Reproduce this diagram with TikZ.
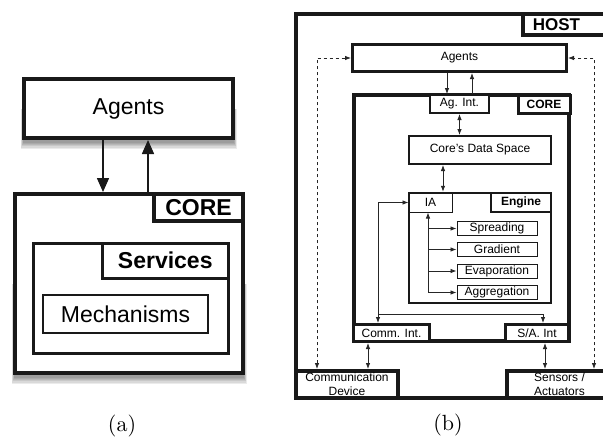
\documentclass[tikz,border=0pt]{standalone}
\usepackage{fontspec}
\newfontfamily\hv{Liberation Sans}
\usetikzlibrary{arrows.meta,calc}
\pgfdeclarelayer{bg}
\pgfsetlayers{bg,main}
\tikzset{
  bx/.style={draw=black!90, fill=white, rectangle, inner sep=0pt, align=center},
  fbig/.style={font=\hv\fontsize{23}{27}\selectfont},
  fbigb/.style={font=\hv\bfseries\fontsize{23}{27}\selectfont},
  fsm/.style={font=\hv\fontsize{12}{14}\selectfont},
  fsmb/.style={font=\hv\bfseries\fontsize{12}{14}\selectfont},
  bigarrow/.style={line width=1.6pt, draw=black!90, -{Triangle[length=14pt,width=12pt]}},
  conn/.style={line width=0.8pt, draw=black!85, -{Latex[length=6pt,width=4.5pt]}},
  dconn/.style={line width=0.8pt, draw=black!85, {Latex[length=6pt,width=4.5pt]}-{Latex[length=6pt,width=4.5pt]}},
  dashline/.style={dconn, dash pattern=on 3.5pt off 2.5pt},
  caption/.style={font=\fontsize{10}{12}\selectfont, scale=2.2, inner sep=0pt},
  shadowlayer/.style={fill=black, opacity=0.08}
}
\begin{document}
\begin{tikzpicture}[x=1pt,y=-1pt]
\useasboundingbox (0,0) rectangle (603,439);
% ---------------- panel (a)
\node[bx, line width=4pt, minimum width=209, minimum height=59, fbig] (AgentsA) at (128.5,108.5) {Agents};
\node[bx, line width=4pt, minimum width=228, minimum height=179] (CoreA) at (129,283.5) {};
\node[bx, line width=4pt, minimum width=89, minimum height=27, fbigb] (CoreTabA) at (198.5,207.5) {CORE};
\node[bx, line width=3pt, minimum width=195, minimum height=110] (Services) at (131,298.5) {};
\node[bx, line width=3pt, minimum width=126.5, minimum height=34.5, fbigb] (ServTab) at (165.25,260.75) {Services};
\node[bx, line width=1.4pt, minimum width=165, minimum height=38, fbig] (Mech) at (125.5,314) {Mechanisms};
\coordinate (dA) at (103,0);
\coordinate (uA) at (148,0);
\draw[bigarrow] (AgentsA.south -| dA) -- (CoreA.north -| dA);
\draw[bigarrow] (CoreA.north -| uA) -- (AgentsA.south -| uA);
\node[caption] (capA) at (122,426) {(a)};
% ---------------- panel (b)
\node[bx, line width=4pt, minimum width=316, minimum height=384] (Host) at (454,206) {};
\node[bx, line width=4pt, minimum width=89, minimum height=21, font=\hv\bfseries\fontsize{17}{20}\selectfont, text depth=0pt] (HostTab) at (567.5,24.5) {\hspace*{-22pt}HOST};
\node[bx, line width=3pt, minimum width=214, minimum height=27, fsm] (AgentsB) at (459.5,58) {Agents};
\node[bx, line width=3.5pt, minimum width=215, minimum height=246] (CoreB) at (461.5,218) {};
\node[bx, line width=3pt, minimum width=52, minimum height=18, fsmb] (CoreTabB) at (544,104) {CORE};
\node[bx, line width=2pt, minimum width=59, minimum height=18, fsm] (AgInt) at (459.5,104) {Ag. Int.};
\node[bx, line width=2pt, minimum width=142, minimum height=28, fsm] (CDS) at (480,150) {Core’s Data Space};
\node[bx, line width=2.5pt, minimum width=142, minimum height=110] (Engine) at (480,248) {};
\node[bx, line width=2.5pt, minimum width=60, minimum height=19, fsmb] (EngTab) at (521,202.5) {Engine};
\node[bx, line width=1pt, minimum width=43, minimum height=19, fsm] (IA) at (430.5,202.5) {IA};
\node[bx, line width=1pt, minimum width=80, minimum height=14, fsm] (Spreading) at (497,228.5) {Spreading};
\node[bx, line width=1pt, minimum width=80, minimum height=14, fsm] (Gradient) at (497,249.5) {Gradient};
\node[bx, line width=1pt, minimum width=80, minimum height=14, fsm] (Evaporation) at (497,271) {Evaporation};
\node[bx, line width=1pt, minimum width=80, minimum height=14, fsm] (Aggregation) at (497,292.5) {Aggregation};
\node[bx, line width=3pt, minimum width=76, minimum height=17, fsm] (CommInt) at (391.5,333) {Comm. Int.};
\node[bx, line width=3pt, minimum width=63, minimum height=17, fsm] (SAInt) at (537,333) {S/A. Int};
\node[bx, line width=4pt, minimum width=102, minimum height=27, fsm] (CommDev) at (347,384.5) {Communication\\Device};
\node[bx, line width=4pt, minimum width=105, minimum height=27, fsm] (Sensors) at (559.5,384.5) {Sensors /\\Actuators};
% soft shadows
\begin{pgfonlayer}{bg}
\foreach \n/\s in {AgentsA/1, CoreA/1, AgentsB/0.55, CoreB/0.6, CommInt/0.55}
  \foreach \k in {0,...,5}
    \fill[shadowlayer] ([xshift={(-1.5+\k*0.5)*\s*1pt}, yshift={(-9+\k*1.3)*\s*1pt}]\n.south west) rectangle ([xshift={(1.5-\k*0.5)*\s*1pt}]\n.east);
\end{pgfonlayer}
% connectors (b)
\coordinate (dl) at (317,58);
\coordinate (dr) at (594,58);
\draw[dashline] (CommDev.north -| dl) -- (dl) -- (AgentsB.west);
\draw[dashline] (Sensors.north -| dr) -- (dr) -- (AgentsB.east);
\coordinate (ad) at (447,0);
\coordinate (au) at (472,0);
\draw[conn] (AgentsB.south -| ad) -- (AgInt.north -| ad);
\draw[conn] (AgInt.north -| au) -- (AgentsB.south -| au);
\draw[dconn] (AgInt.south) -- (AgInt.south |- CDS.north);
\coordinate (ce) at (443,0);
\draw[dconn] (CDS.south -| ce) -- (Engine.north -| ce);
\coordinate (iaL) at (428,0);
\draw[conn] (Aggregation.west -| iaL) -- (IA.south -| iaL);
\foreach \m in {Spreading,Gradient,Evaporation,Aggregation}
  \draw[conn] (\m.west -| iaL) -- (\m.west);
\coordinate (lx) at (378,0);
\draw[dconn] (CommInt.north -| lx) -- (IA.west -| lx) -- (IA.west);
\coordinate (hy) at (378,314);
\coordinate (hx) at (543,314);
\draw[conn] (hy) -- (hx) -- (SAInt.north -| hx);
\coordinate (cd) at (368,0);
\coordinate (sa) at (545,0);
\draw[dconn] (CommInt.south -| cd) -- (CommDev.north -| cd);
\draw[dconn] (SAInt.south -| sa) -- (Sensors.north -| sa);
\node[caption] (capB) at (448,425) {(b)};
\end{tikzpicture}
\end{document}
